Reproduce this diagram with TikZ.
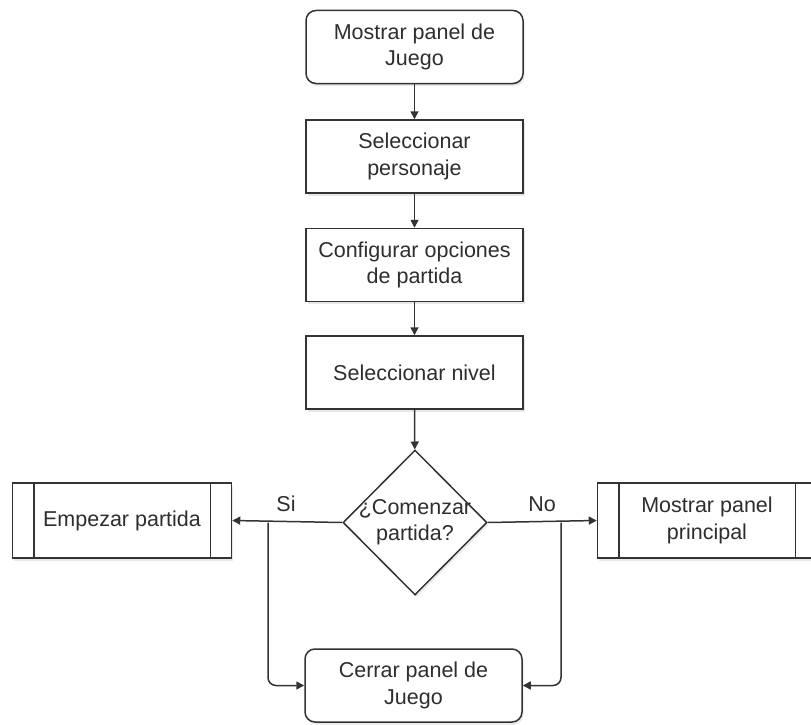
\documentclass[tikz,border=0pt]{standalone}
\usepackage{fontspec}
\setmainfont{Liberation Sans}
\usetikzlibrary{shapes.geometric,arrows.meta,shadows}
\definecolor{ln}{HTML}{333333}
\definecolor{tx}{HTML}{2E2E2E}
\tikzset{
  base/.style={draw=ln, line width=1.5pt, fill=white, text=tx, align=center,
    font=\fontsize{21.5}{26.5}\selectfont,
    drop shadow={opacity=0.18, shadow xshift=1.5pt, shadow yshift=-2.5pt}},
  procbox/.style={base, rectangle, minimum width=217pt, minimum height=73pt, inner sep=2pt},
  roundbox/.style={procbox, rounded corners=10pt},
  subbox/.style={procbox, minimum width=219pt, minimum height=75pt},
  decision/.style={base, diamond, minimum width=144pt, minimum height=145pt, inner sep=0pt},
  conn/.style={draw=ln, line width=1.5pt, -{Triangle[length=8pt,width=8pt]}},
  lbl/.style={text=tx, font=\fontsize{21.5}{24}\selectfont}
}
\begin{document}
\begin{tikzpicture}[x=1pt,y=-1pt]
\useasboundingbox (0,0) rectangle (811,725);
\node[roundbox] (mostrar) at (414.5,47) {Mostrar panel de\\Juego};
\node[procbox] (selpers) at (414.5,156.5) {Seleccionar\\personaje};
\node[procbox] (config) at (414.5,265) {Configurar opciones\\de partida};
\node[procbox] (selniv) at (414.5,372.5) {Seleccionar nivel};
\node[decision] (comenzar) at (415,522.5) {};
\node[text=tx, align=center, font=\fontsize{21.5}{26.5}\selectfont] (comtxt) at (415,522) {¿Comenzar\\partida?};
\node[subbox] (empezar) at (122,520.5) {Empezar partida};
\draw[draw=ln, line width=1.5pt] ([xshift=22pt]empezar.north west) -- ([xshift=22pt]empezar.south west)
  ([xshift=-22pt]empezar.north east) -- ([xshift=-22pt]empezar.south east);
\node[subbox] (principal) at (707,520.5) {Mostrar panel\\principal};
\draw[draw=ln, line width=1.5pt] ([xshift=22pt]principal.north west) -- ([xshift=22pt]principal.south west)
  ([xshift=-22pt]principal.north east) -- ([xshift=-22pt]principal.south east);
\node[roundbox] (cerrar) at (413.5,685.5) {Cerrar panel de\\Juego};

\draw[conn] (mostrar) -- (selpers);
\draw[conn] (selpers) -- (config);
\draw[conn] (config) -- (selniv);
\draw[conn] (selniv) -- (comenzar);
\draw[conn] (comenzar.west) -- (empezar.east);
\draw[conn] (comenzar.east) -- (principal.west);
\coordinate (sij) at (268,522.5);
\coordinate (noj) at (561,522.5);
\draw[conn, rounded corners=8pt] (sij) |- (cerrar.west);
\draw[conn, rounded corners=8pt] (noj) |- (cerrar.east);
\node[lbl] (si) at (286,504) {Si};
\node[lbl] (no) at (542,504) {No};
\end{tikzpicture}
\end{document}
